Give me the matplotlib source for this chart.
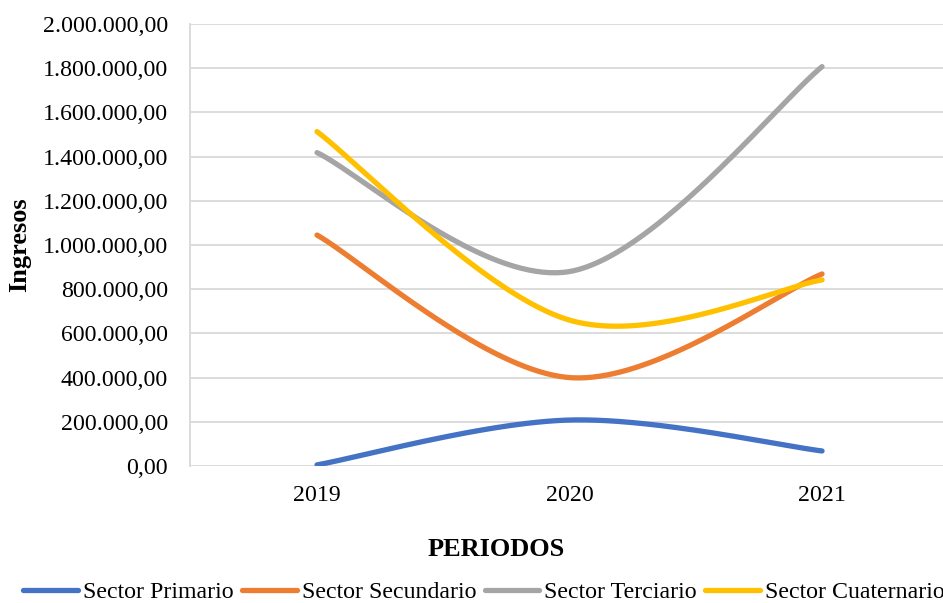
import numpy as np
import matplotlib
matplotlib.use("Agg")
import matplotlib.pyplot as plt
from matplotlib.ticker import FuncFormatter, MultipleLocator

periodos = ["2019", "2020", "2021"]
sector_primario = [5000, 208000, 68000]
sector_secundario = [1045000, 400000, 869000]
sector_terciario = [1418000, 880000, 1807000]
sector_cuaternario = [1513000, 660000, 842000]

series = [
    ("Sector Primario", sector_primario, "#4472C4"),
    ("Sector Secundario", sector_secundario, "#ED7D31"),
    ("Sector Terciario", sector_terciario, "#A5A5A5"),
    ("Sector Cuaternario", sector_cuaternario, "#FFC000"),
]

plt.rcParams["font.family"] = ["Liberation Serif", "DejaVu Serif"]


def smooth_curve(xs, ys, n=80):
    """Catmull-Rom style cubic Bezier through the points (spreadsheet 'smoothed line')."""
    pts = np.column_stack([xs, ys]).astype(float)
    m = len(pts)
    out = []
    for i in range(m - 1):
        p0 = pts[max(i - 1, 0)]
        p1 = pts[i]
        p2 = pts[i + 1]
        p3 = pts[min(i + 2, m - 1)]
        c1 = p1 + (p2 - p0) / 6.0
        c2 = p2 - (p3 - p1) / 6.0
        t = np.linspace(0, 1, n)[:, None]
        seg = ((1 - t) ** 3) * p1 + 3 * ((1 - t) ** 2) * t * c1 + 3 * (1 - t) * t ** 2 * c2 + t ** 3 * p2
        out.append(seg if i == 0 else seg[1:])
    curve = np.vstack(out)
    return curve[:, 0], curve[:, 1]


fig = plt.figure(figsize=(9.43, 6.03), dpi=100)
ax = fig.add_axes([190 / 943, 137 / 603, 753 / 943, 442 / 603])

x = np.arange(len(periodos))
for name, vals, color in series:
    sx, sy = smooth_curve(x, vals)
    ax.plot(sx, sy, color=color, lw=3.8, solid_capstyle="round", label=name, zorder=3)

ax.set_ylim(0, 2000000)
ax.set_xlim(-0.503, 2.479)
ax.yaxis.set_major_locator(MultipleLocator(200000))


def es_format(v, pos):
    s = f"{v:,.2f}"
    return s.replace(",", "X").replace(".", ",").replace("X", ".")


ax.yaxis.set_major_formatter(FuncFormatter(es_format))
ax.set_xticks(x)
ax.set_xticklabels(periodos)
ax.tick_params(axis="both", length=0, labelsize=17.2, colors="black")
ax.tick_params(axis="y", pad=16)
ax.tick_params(axis="x", pad=14)

ax.grid(axis="y", color="#D9D9D9", lw=1.3, zorder=0)
ax.set_axisbelow(True)
for side in ["top", "right", "bottom"]:
    ax.spines[side].set_visible(False)
ax.spines["left"].set_color("#D9D9D9")
ax.spines["left"].set_linewidth(1.3)

fig.text(20 / 943, 1 - 245 / 603, "Ingresos", rotation=90, ha="center", va="center",
         fontsize=19, fontweight="bold")
fig.text(496 / 943, 1 - 549 / 603, "PERIODOS", ha="center", va="center",
         fontsize=19, fontweight="bold")

fig.legend(loc="center", bbox_to_anchor=(484 / 943, 1 - 592 / 603), ncol=4, frameon=False,
           fontsize=17.2, handlelength=2.3, handletextpad=0.2, columnspacing=0.35,
           borderaxespad=0, borderpad=0)

fig.savefig("out.png", dpi=100)
